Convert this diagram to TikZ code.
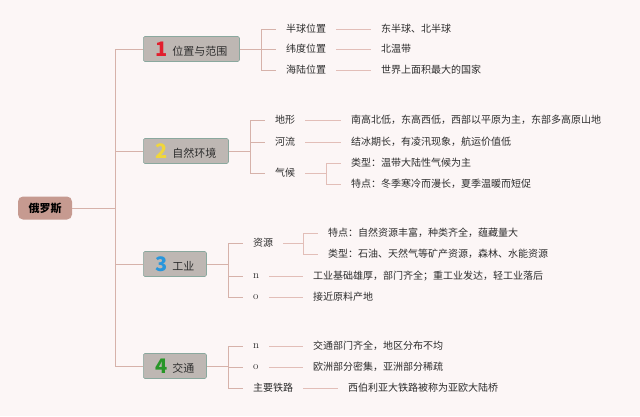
\documentclass[tikz,border=0pt]{standalone}
\usepackage{fontspec}
\newfontfamily\cjk{Noto Sans CJK SC}
\usetikzlibrary{positioning}
\definecolor{bgpink}{RGB}{252,246,246}
\definecolor{rootfill}{RGB}{198,154,144}
\definecolor{boxfill}{RGB}{190,183,179}
\definecolor{boxline}{RGB}{138,168,158}
\definecolor{linkbrown}{RGB}{214,178,170}
\definecolor{leafline}{RGB}{226,190,184}
\definecolor{txtgray}{RGB}{45,45,45}
\definecolor{numred}{RGB}{226,30,45}
\definecolor{numyellow}{RGB}{240,214,60}
\definecolor{numblue}{RGB}{40,150,220}
\definecolor{numgreen}{RGB}{40,150,40}
\newcommand{\topicnum}[2]{\raisebox{-1.2pt}{\fontsize{20}{20}\selectfont\bfseries\textcolor{#1}{#2}}\hspace{5pt}}

\begin{document}
\begin{tikzpicture}[x=1pt,y=-1pt,
  every node/.style={font=\cjk\fontsize{10}{12}\selectfont,text=txtgray},
  rootbox/.style={fill=rootfill,rounded corners=5pt,minimum width=54pt,minimum height=23pt,
                  font=\cjk\fontsize{11}{13}\selectfont\bfseries,text=black},
  topicbox/.style={anchor=west,fill=boxfill,draw=boxline,line width=0.6pt,rounded corners=1.5pt,
                   minimum height=25pt,inner xsep=12pt,inner ysep=0pt,font=\cjk\fontsize{11}{13}\selectfont},
  item/.style={anchor=west,inner xsep=10pt,inner ysep=1pt},
  latin/.style={font=\normalfont\fontsize{11}{13}\selectfont},
  trunk/.style={draw=linkbrown,line width=0.9pt},
  twig/.style={draw=leafline,line width=0.7pt}]

  \fill[bgpink] (0,0) rectangle (640,416);                      % background
  \useasboundingbox (0,0) rectangle (640,416);

  \node[rootbox] (root) at (45,208) {俄罗斯};                   % root
  \coordinate (hub) at (115,208);

  \node[topicbox] (b1) at (143,49)  {\topicnum{numred}{1}位置与范围};    % topic 1
  \node[topicbox] (b2) at (143,151) {\topicnum{numyellow}{2}自然环境};   % topic 2
  \node[topicbox] (b3) at (143,264) {\topicnum{numblue}{3}工业};         % topic 3
  \node[topicbox] (b4) at (143,366) {\topicnum{numgreen}{4}交通};        % topic 4

  % topic 1
  \node[item] (l11) at (276,29) {半球位置};
  \node[item] (l12) at (276,49) {纬度位置};
  \node[item] (l13) at (276,70) {海陆位置};
  \node[item] (f11) at (371,29) {东半球、北半球};
  \node[item] (f12) at (371,49) {北温带};
  \node[item] (f13) at (371,70) {世界上面积最大的国家};

  % topic 2
  \node[item] (l21) at (265,120) {地形};
  \node[item] (l22) at (265,142) {河流};
  \node[item] (l23) at (265,173) {气候};
  \node[item] (f21) at (341,120) {南高北低，东高西低，西部以平原为主，东部多高原山地};
  \node[item] (f22) at (341,142) {结冰期长，有凌汛现象，航运价值低};
  \node[item] (f23) at (341,163) {类型：温带大陆性气候为主};
  \node[item] (f24) at (341,184) {特点：冬季寒冷而漫长，夏季温暖而短促};

  % topic 3
  \node[item] (l31) at (243,243) {资源};
  \node[item,latin] (l32) at (243,276) {n};
  \node[item,latin] (l33) at (243,297) {o};
  \node[item] (f31) at (318,233) {特点：自然资源丰富，种类齐全，蕴藏量大};
  \node[item] (f32) at (318,254) {类型：石油、天然气等矿产资源，森林、水能资源};
  \node[item] (f33) at (303,276) {工业基础雄厚，部门齐全；重工业发达，轻工业落后};
  \node[item] (f34) at (303,297) {接近原料产地};

  % topic 4
  \node[item,latin] (l41) at (243,346) {n};
  \node[item,latin] (l42) at (243,367) {o};
  \node[item] (l43) at (243,388) {主要铁路};
  \node[item] (f41) at (303,346) {交通部门齐全，地区分布不均};
  \node[item] (f42) at (303,367) {欧洲部分密集，亚洲部分稀疏};
  \node[item] (f43) at (338,388) {西伯利亚大铁路被称为亚欧大陆桥};

  % trunk from root to topics
  \draw[trunk] (root.east) -- (hub);
  \draw[trunk] (hub |- b1.west) -- (hub |- b4.west);
  \foreach \b in {b1,b2,b3,b4}
    \draw[trunk] (hub |- \b.west) -- (\b.west);

  % brackets from topics to labels
  \coordinate (k1) at (261,49);
  \coordinate (k2) at (250,151);
  \coordinate (k3) at (228,264);
  \coordinate (k4) at (228,366);
  \draw[trunk] (b1.east) -- (k1);
  \draw[trunk] (b2.east) -- (k2);
  \draw[trunk] (b3.east) -- (k3);
  \draw[trunk] (b4.east) -- (k4);
  \draw[trunk] (k1 |- l11.west) -- (k1 |- l13.west);
  \draw[trunk] (k2 |- l21.west) -- (k2 |- l23.west);
  \draw[trunk] (k3 |- l31.west) -- (k3 |- l33.west);
  \draw[trunk] (k4 |- l41.west) -- (k4 |- l43.west);
  \foreach \k/\l in {k1/l11,k1/l12,k1/l13,k2/l21,k2/l22,k2/l23,
                     k3/l31,k3/l32,k3/l33,k4/l41,k4/l42,k4/l43}
    \draw[trunk] (\k |- \l.west) -- (\l.west);

  % labels to leaves
  \foreach \l/\f in {l11/f11,l12/f12,l13/f13,l21/f21,l22/f22,
                     l32/f33,l33/f34,l41/f41,l42/f42,l43/f43}
    \draw[twig] (\l.east) -- (\f.west);

  % sub brackets
  \coordinate (k23) at (326,173);
  \coordinate (k31) at (303,243);
  \draw[twig] (l23.east) -- (k23);
  \draw[twig] (l31.east) -- (k31);
  \draw[twig] (k23 |- f23.west) -- (k23 |- f24.west);
  \draw[twig] (k31 |- f31.west) -- (k31 |- f32.west);
  \foreach \k/\f in {k23/f23,k23/f24,k31/f31,k31/f32}
    \draw[twig] (\k |- \f.west) -- (\f.west);

\end{tikzpicture}
\end{document}
